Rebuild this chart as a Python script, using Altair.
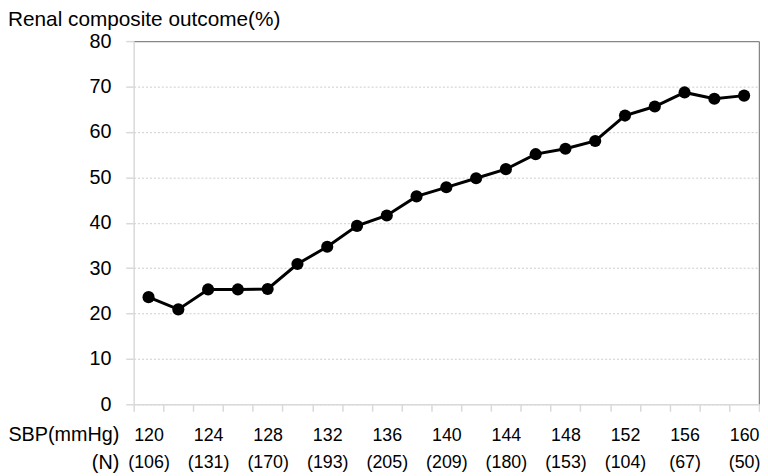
import altair as alt
import pandas as pd

sbp = [120, 122, 124, 126, 128, 130, 132, 134, 136, 138, 140,
       142, 144, 146, 148, 150, 152, 154, 156, 158, 160]
rate = [23.6, 20.9, 25.3, 25.3, 25.4, 30.9, 34.7, 39.3, 41.6, 45.8, 47.8,
        49.8, 51.8, 55.1, 56.3, 58.0, 63.6, 65.6, 68.7, 67.3, 68.0]
label_sbp = [120, 124, 128, 132, 136, 140, 144, 148, 152, 156, 160]
label_n = ["(106)", "(131)", "(170)", "(193)", "(205)", "(209)",
           "(180)", "(153)", "(104)", "(67)", "(50)"]
y_ticks = [0, 10, 20, 30, 40, 50, 60, 70, 80]

df = pd.DataFrame({"sbp": sbp, "rate": rate})

x_min, x_max = 119, 161
boundaries = list(range(x_min, x_max + 1, 2))
x_values = sorted(set(boundaries + label_sbp))

n_array = "[" + ",".join("'" + s + "'" for s in label_n) + "]"
label_expr = (
    f"(datum.value - {label_sbp[0]}) % 4 === 0 && datum.value >= {label_sbp[0]} "
    f"&& datum.value <= {label_sbp[-1]} "
    f"? [datum.label, {n_array}[(datum.value - {label_sbp[0]}) / 4]] : ''"
)

FONT = "Liberation Sans"
LIGHT = "#d9d9d9"
FRAME = "#868686"

x_enc = alt.X(
    "sbp:Q",
    scale=alt.Scale(domain=[x_min, x_max], nice=False, zero=False),
    axis=alt.Axis(
        values=x_values,
        labelExpr=label_expr,
        labelFont=FONT,
        labelFontSize=18,
        labelColor="#000000",
        labelBaseline="alphabetic",
        labelLineHeight=27,
        labelPadding=30,
        labelOverlap=False,
        labelFlush=False,
        labelBound=False,
        tickSize=7,
        tickColor=LIGHT,
        tickWidth=1.5,
        tickOpacity=alt.condition(f"datum.value % 2 === 1", alt.value(1), alt.value(0)),
        domainColor=LIGHT,
        domainWidth=1.5,
        grid=True,
        gridColor=FRAME,
        gridWidth=1.5,
        gridOpacity=alt.condition(f"datum.value === {x_max}", alt.value(1), alt.value(0)),
        title=["SBP(mmHg)", "(N)"],
        titleFont=FONT,
        titleFontSize=20,
        titleFontWeight="normal",
        titleColor="#000000",
        titleAlign="right",
        titleBaseline="alphabetic",
        titleAngle=0,
        titleX=-15,
        titleY=37,
        titleLineHeight=28,
    ),
)

y_enc = alt.Y(
    "rate:Q",
    scale=alt.Scale(domain=[0, 80], nice=False),
    axis=alt.Axis(
        values=y_ticks,
        labelFont=FONT,
        labelFontSize=20,
        labelColor="#000000",
        labelPadding=15,
        tickSize=8,
        tickColor=LIGHT,
        tickWidth=1.5,
        domainColor=LIGHT,
        domainWidth=1.5,
        grid=True,
        gridColor=alt.condition("datum.value === 80", alt.value(FRAME), alt.value("#cccccc")),
        gridDash=alt.condition("datum.value === 80", alt.value([]), alt.value([2, 2])),
        gridWidth=alt.condition("datum.value === 80", alt.value(1.5), alt.value(1)),
        title=None,
    ),
)

base = alt.Chart(df).encode(x=x_enc, y=y_enc)
line = base.mark_line(color="#000000", strokeWidth=3)
points = base.mark_circle(color="#000000", size=150, opacity=1)

chart = (
    alt.layer(line, points)
    .properties(
        width=632,
        height=367,
        autosize=alt.AutoSizeParams(type="none"),
        padding={"left": 127, "top": 31, "right": 1, "bottom": 70},
        title=alt.TitleParams(
            "Renal composite outcome(%)",
            anchor="start",
            frame="group",
            font=FONT,
            fontSize=21,
            fontWeight="normal",
            color="#000000",
            baseline="alphabetic",
            offset=12,
            dx=-127,
            dy=28,
        ),
    )
    .configure_view(stroke=None)
)

chart.save("out.html", embed_options={"renderer": "svg", "actions": False})
